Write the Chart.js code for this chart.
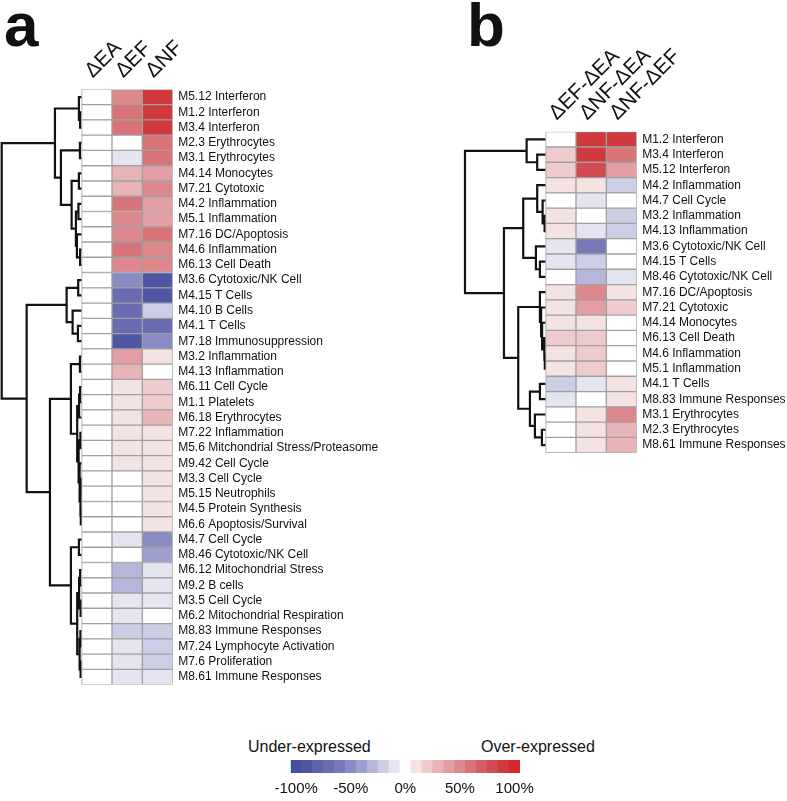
<!DOCTYPE html>
<html lang="en">
<head>
<meta charset="UTF-8">
<title>Module expression heatmaps</title>
<script src="https://cdn.jsdelivr.net/npm/chart.js"></script>
<style>
  body { margin: 0; background: #fff; font-family: 'Liberation Sans', Arial, sans-serif; color: #111; }
  #wrap { position: relative; width: 787px; height: 801px; overflow: hidden; }
  #wrap canvas, .txt { position: absolute; }
  .panel { font-weight: bold; font-size: 62px; line-height: 1; }
  .cb { font-size: 16px; line-height: 1; white-space: nowrap; }
</style>
</head>
<body>
<div id="wrap">
  <div class="txt panel" style="left:4px;top:-6px">a</div>
  <div class="txt panel" style="left:467px;top:-6px">b</div>
  <canvas id="heatA" width="410" height="700" style="left:0;top:0"></canvas>
  <canvas id="heatB" width="332" height="470" style="left:455px;top:0"></canvas>
  <div class="txt cb" style="left:248px;top:739px">Under-expressed</div>
  <div class="txt cb" style="left:481px;top:739px">Over-expressed</div>
  <canvas id="scale" width="330" height="46" style="left:240px;top:755px"></canvas>
</div>
<script>
// ---- panel a ----
const colsA = ['ΔEA', 'ΔEF', 'ΔNF'];
const modulesA = [
  'M5.12 Interferon', 'M1.2 Interferon', 'M3.4 Interferon', 'M2.3 Erythrocytes', 'M3.1 Erythrocytes',
  'M4.14 Monocytes', 'M7.21 Cytotoxic', 'M4.2 Inflammation', 'M5.1 Inflammation', 'M7.16 DC/Apoptosis',
  'M4.6 Inflammation', 'M6.13 Cell Death', 'M3.6 Cytotoxic/NK Cell', 'M4.15 T Cells', 'M4.10 B Cells',
  'M4.1 T Cells', 'M7.18 Immunosuppression', 'M3.2 Inflammation', 'M4.13 Inflammation', 'M6.11 Cell Cycle',
  'M1.1 Platelets', 'M6.18 Erythrocytes', 'M7.22 Inflammation', 'M5.6 Mitchondrial Stress/Proteasome', 'M9.42 Cell Cycle',
  'M3.3 Cell Cycle', 'M5.15 Neutrophils', 'M4.5 Protein Synthesis', 'M6.6 Apoptosis/Survival', 'M4.7 Cell Cycle',
  'M8.46 Cytotoxic/NK Cell', 'M6.12 Mitochondrial Stress', 'M9.2 B cells', 'M3.5 Cell Cycle', 'M6.2 Mitochondrial Respiration',
  'M8.83 Immune Responses', 'M7.24 Lymphocyte Activation', 'M7.6 Proliferation', 'M8.61 Immune Responses'
];
// percent change, one value per module
const valEA = [0, 0, 0, 0, 0, 0, 0, 0, 0, 0, 0, 0, 0, 0, 0, 0, 0, 0, 0, 0,
               0, 0, 0, 0, 0, 0, 0, 0, 0, 0, 0, 0, 0, 0, 0, 0, 0, 0, 0];
const valEF = [45, 55, 55, 0, -10, 25, 25, 55, 45, 45, 60, 45, -50, -65, -65, -65, -85, 35, 25, 10,
               10, 10, 10, 10, 10, 0, 0, 0, 0, -10, 0, -25, -25, -10, -10, -20, -10, -10, -10];
const valNF = [85, 90, 90, 55, 55, 35, 45, 35, 35, 55, 45, 45, -85, -85, -20, -65, -50, 10, 0, 20,
               20, 25, 10, 10, 10, 10, 10, 10, 10, -50, -35, -10, -10, -10, 0, -20, -20, -20, -10];
// row clustering: [merge height, left, right], leaves are row numbers
const treeA = [80,
  [26.7, [2.7, 1, [1.5, 2, 3]],
         [20.7, [1.7, 4, 5], [10, [2.7, 6, 7], [5.7, [3.2, 8, 9], [4.7, 10, [1.5, 11, 12]]]]]],
  [55, [15, [3.4, 13, 14], [9, 15, [3.7, 16, 17]]],
       [31.7,
         [10.7, [1.7, 18, 19],
                [4.4, [2.5, [1.5, 20, 21], 22],
                      [3, [1.2, 23, 24], [2, 25, [1.3, [0.8, 26, 27], [0.8, 28, 29]]]]]],
         [10.7, [2.7, 30, 31],
                [4.4, [2.5, [1.5, 32, 33], [1, 34, 35]], [2, [1.2, 36, 37], [1, 38, 39]]]]]]];

// ---- panel b ----
const colsB = ['ΔEF-ΔEA', 'ΔNF-ΔEA', 'ΔNF-ΔEF'];
const modulesB = [
  'M1.2 Interferon', 'M3.4 Interferon', 'M5.12 Interferon', 'M4.2 Inflammation', 'M4.7 Cell Cycle',
  'M3.2 Inflammation', 'M4.13 Inflammation', 'M3.6 Cytotoxic/NK Cell', 'M4.15 T Cells', 'M8.46 Cytotoxic/NK Cell',
  'M7.16 DC/Apoptosis', 'M7.21 Cytotoxic', 'M4.14 Monocytes', 'M6.13 Cell Death', 'M4.6 Inflammation',
  'M5.1 Inflammation', 'M4.1 T Cells', 'M8.83 Immune Responses', 'M3.1 Erythrocytes', 'M2.3 Erythrocytes',
  'M8.61 Immune Responses'
];
const valEFmEA = [0, 20, 20, 10, 0, 10, 10, -10, -10, 0, 10, 10, 10, 20, 10, 10, -20, -10, 0, 0, 0];
const valNFmEA = [85, 85, 75, 10, -10, 0, -10, -60, -20, -30, 50, 35, 10, 20, 20, 20, -10, 0, 10, 10, 10];
const valNFmEF = [85, 55, 35, -20, 0, -20, -20, 0, 0, -10, 10, 20, 0, 0, 0, 0, 10, 10, 45, 25, 25];
const treeB = [80.7,
  [19, 1, [8.4, 2, 3]],
  [41.7,
    [22.4, [8.4, 4, [3, 5, [1, 6, 7]]], [9.7, 8, [5.7, 9, 10]]],
    [27.4,
      [5.7, 11, [4.5, 12, [3.5, 13, [1.5, 14, [0.8, 15, 16]]]]],
      [15.7, [5.7, 17, 18], [10.7, 19, [3.7, 20, 21]]]]]];

// ---- colour key ----
const keyLevels = [-100, -90, -80, -70, -60, -50, -40, -30, -20, -10, 0,
                   10, 20, 30, 40, 50, 60, 70, 80, 90, 100];
const keyTicks = ['-100%', '-50%', '0%', '50%', '100%'];

const FONT = "'Liberation Sans', Arial, Helvetica, sans-serif";
const RED = ['#f5e3e4', '#eecbcd', '#e8b4b7', '#e29ea2', '#dc888c', '#d87378', '#d45e63', '#d14b50', '#d0393d', '#d3272b'];
const BLUE = ['#e5e5f2', '#cdcde6', '#b6b6da', '#9f9fcf', '#8a8ac4', '#7777ba', '#6a6cb2', '#5c62ab', '#4f57a5', '#4350a0'];
const DIST_PER_COL = 30.4; // dendrogram distance units per heatmap column

function cellColor(v) {
  const k = Math.min(10, Math.round(Math.abs(v) / 10));
  if (k === 0) return '#ffffff';
  return v > 0 ? RED[k - 1] : BLUE[k - 1];
}

// walk the tree, each merge gives one bracket line, parents sit halfway between children
function dendroPoints(tree) {
  const pts = [];
  function walk(node) {
    if (typeof node === 'number') return { x: 0, y: node };
    const a = walk(node[1]);
    const b = walk(node[2]);
    const x = -node[0] / DIST_PER_COL;
    pts.push({ x: a.x, y: a.y }, { x: x, y: a.y }, { x: x, y: b.y }, { x: b.x, y: b.y }, { x: null, y: null });
    return { x: x, y: (a.y + b.y) / 2 };
  }
  walk(tree);
  return pts;
}

function headerPlugin(cols, dx, dy, size) {
  return {
    id: 'colHeaders',
    afterDraw(chart) {
      const { ctx, chartArea, scales } = chart;
      ctx.save();
      ctx.font = size + 'px ' + FONT;
      ctx.fillStyle = '#111';
      ctx.textAlign = 'left';
      ctx.textBaseline = 'alphabetic';
      cols.forEach((label, c) => {
        ctx.save();
        ctx.translate(scales.x.getPixelForValue(c + 0.5) + dx, chartArea.top - dy);
        ctx.rotate(-Math.PI / 4);
        ctx.fillText(label, 0, 0);
        ctx.restore();
      });
      ctx.restore();
    }
  };
}

function buildPanel(id, cols, names, series, tree, pad, labelW, hdr) {
  const n = names.length;
  const rowTicks = s => { s.ticks = names.map((_, i) => ({ value: i + 1 })); };
  const cells = series.map((vals, c) => ({
    type: 'bar',
    indexAxis: 'y',
    xAxisID: 'x',
    yAxisID: 'y',
    grouped: false,
    data: vals.map((v, i) => ({ x: [c, c + 1], y: i + 1 })),
    backgroundColor: vals.map(cellColor),
    borderColor: '#a0a0a0',
    borderWidth: 1,
    borderSkipped: false,
    barPercentage: 1,
    categoryPercentage: 1
  }));
  new Chart(document.getElementById(id), {
    type: 'bar',
    data: {
      datasets: cells.concat([{
        type: 'line',
        xAxisID: 'x',
        yAxisID: 'y',
        data: dendroPoints(tree),
        borderColor: '#111',
        borderWidth: 2.2,
        pointRadius: 0,
        tension: 0,
        fill: false,
        spanGaps: false,
        clip: false
      }])
    },
    options: {
      responsive: false,
      animation: false,
      events: [],
      layout: { padding: pad },
      plugins: { legend: { display: false }, tooltip: { enabled: false } },
      scales: {
        x: { type: 'linear', offset: false, min: -tree[0] / DIST_PER_COL, max: cols.length, display: false },
        y: { type: 'linear', offset: false, reverse: true, min: 0.5, max: n + 0.5, display: false, afterBuildTicks: rowTicks },
        yl: {
          type: 'linear', position: 'right', offset: false, reverse: true, min: 0.5, max: n + 0.5,
          grid: { display: false, drawTicks: false },
          border: { display: false },
          afterBuildTicks: rowTicks,
          afterFit: s => { s.width = labelW; },
          ticks: {
            padding: 5.5, color: '#111', autoSkip: false,
            font: { family: FONT, size: 12 },
            callback: v => names[v - 1]
          }
        }
      }
    },
    plugins: [headerPlugin(cols, hdr.dx, hdr.dy, hdr.size)]
  });
}

buildPanel('heatA', colsA, modulesA, [valEA, valEF, valNF], treeA,
  { left: 1.7, top: 89.4, bottom: 15.4, right: 0 }, 237.3, { dx: -4, dy: 11, size: 21 });
buildPanel('heatB', colsB, modulesB, [valEFmEA, valNFmEA, valNFmEF], treeB,
  { left: 10, top: 131.7, bottom: 17.3, right: 0 }, 150.3, { dx: -4, dy: 11, size: 21 });

// colour key
new Chart(document.getElementById('scale'), {
  type: 'bar',
  data: {
    labels: keyLevels.map(v => v + '%'),
    datasets: [{
      data: keyLevels.map(() => 1),
      backgroundColor: keyLevels.map(cellColor),
      borderWidth: 0,
      barPercentage: 1,
      categoryPercentage: 1
    }]
  },
  options: {
    responsive: false,
    animation: false,
    events: [],
    layout: { padding: { left: 50.7, right: 50, top: 5, bottom: 0 } },
    plugins: { legend: { display: false }, tooltip: { enabled: false } },
    scales: {
      x: {
        grid: { display: false, drawTicks: false },
        border: { display: false },
        afterFit: s => { s.height = 28; },
        ticks: {
          autoSkip: false, maxRotation: 0, padding: 7, color: '#111',
          font: { family: FONT, size: 15 },
          callback: function (v, i) {
            const lab = this.getLabelForValue(v);
            return keyTicks.includes(lab) ? lab : '';
          }
        }
      },
      y: { min: 0, max: 1, display: false }
    }
  }
});
</script>
</body>
</html>
